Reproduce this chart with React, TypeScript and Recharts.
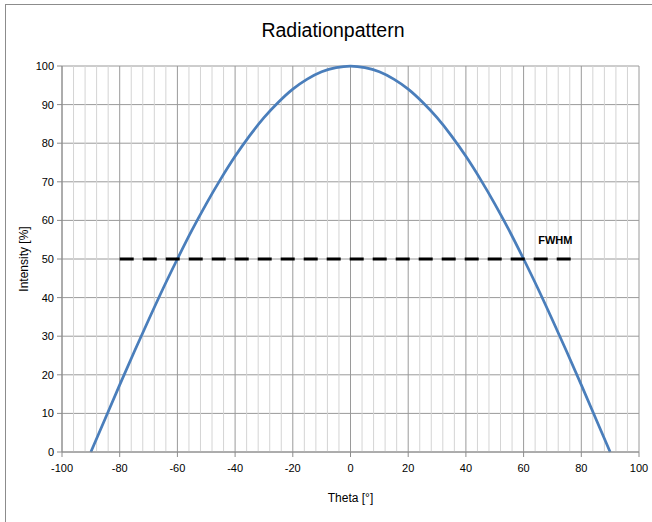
import React from 'react';
import { LineChart, Line, XAxis, YAxis, CartesianGrid, ReferenceLine, ReferenceDot } from 'recharts';

// theta in degrees, intensity in percent
const THETA = [-90, -85, -80, -75, -70, -65, -60, -55, -50, -45, -40, -35, -30, -25, -20, -15, -10, -5, 0,
  5, 10, 15, 20, 25, 30, 35, 40, 45, 50, 55, 60, 65, 70, 75, 80, 85, 90];
const INTENSITY = [0, 8.7, 17.4, 25.9, 34.2, 42.3, 50, 57.4, 64.3, 70.7, 76.6, 81.9, 86.6, 90.6, 94, 96.6, 98.5, 99.6, 100,
  99.6, 98.5, 96.6, 94, 90.6, 86.6, 81.9, 76.6, 70.7, 64.3, 57.4, 50, 42.3, 34.2, 25.9, 17.4, 8.7, 0];

const FWHM_THETA = [-80, 78];
const FWHM_LEVEL = [50, 50];

const X_TICKS = [-100, -80, -60, -40, -20, 0, 20, 40, 60, 80, 100];
const Y_TICKS = [0, 10, 20, 30, 40, 50, 60, 70, 80, 90, 100];
const MINOR_X = Array.from({ length: 49 }, (_, i) => -96 + i * 4).filter((v) => v % 20 !== 0);

const curve = THETA.map((t, i) => ({ theta: t, intensity: INTENSITY[i] }));
const fwhm = FWHM_THETA.map((t, i) => ({ theta: t, level: FWHM_LEVEL[i] }));

const FONT = '"Liberation Sans Narrow", "Liberation Sans", Arial, sans-serif';

export default function App() {
  return (
    <div style={{ position: 'absolute', left: 0, top: 0, width: 652, height: 522, background: '#fff', fontFamily: FONT }}>
      <div style={{ position: 'absolute', left: 5, top: 4, right: 0, bottom: 0, borderLeft: '1px solid #8c8c8c', borderTop: '1px solid #8c8c8c' }} />
      <div style={{ position: 'absolute', left: 0, width: 666, top: 19, textAlign: 'center', fontSize: 19.5, fontFamily: '"Liberation Sans", Arial, sans-serif', color: '#000' }}>
        Radiationpattern
      </div>
      <LineChart
        width={652}
        height={522}
        data={curve}
        margin={{ top: 66, right: 13, left: 0, bottom: 0 }}
        style={{ position: 'absolute', left: 0, top: 0 }}
      >
        {MINOR_X.map((v) => (
          <ReferenceLine key={v} x={v} stroke="#d4d4d4" strokeWidth={1} ifOverflow="hidden" />
        ))}
        <CartesianGrid stroke="#9a9a9a" strokeWidth={1} />
        <XAxis
          type="number"
          dataKey="theta"
          domain={[-100, 100]}
          ticks={X_TICKS}
          interval={0}
          height={70}
          stroke="#8c8c8c"
          tickSize={5}
          tick={{ fontSize: 11, fill: '#000', fontFamily: FONT }}
          tickMargin={7}
          allowDuplicatedCategory={false}
          label={{ value: 'Theta [°]', position: 'insideBottom', offset: 20, fontSize: 12, fill: '#000', fontFamily: FONT }}
        />
        <YAxis
          type="number"
          domain={[0, 100]}
          ticks={Y_TICKS}
          interval={0}
          width={62}
          stroke="#8c8c8c"
          tickSize={5}
          tick={{ fontSize: 11, fill: '#000', fontFamily: FONT }}
          tickMargin={3}
          label={{ value: 'Intensity [%]', angle: -90, position: 'insideLeft', offset: 24, fontSize: 12, fill: '#000', fontFamily: FONT, style: { textAnchor: 'middle' } }}
        />
        <Line
          type="monotone"
          dataKey="intensity"
          stroke="#4a7ebb"
          strokeWidth={2.75}
          dot={false}
          isAnimationActive={false}
        />
        <Line
          data={fwhm}
          type="linear"
          dataKey="level"
          stroke="#000"
          strokeWidth={3}
          strokeDasharray="14 9"
          dot={false}
          isAnimationActive={false}
        />
        <ReferenceDot
          x={71}
          y={55}
          r={0}
          stroke="none"
          label={{ value: 'FWHM', position: 'center', fontSize: 11, fontWeight: 'bold', fill: '#000', fontFamily: FONT }}
        />
      </LineChart>
    </div>
  );
}
